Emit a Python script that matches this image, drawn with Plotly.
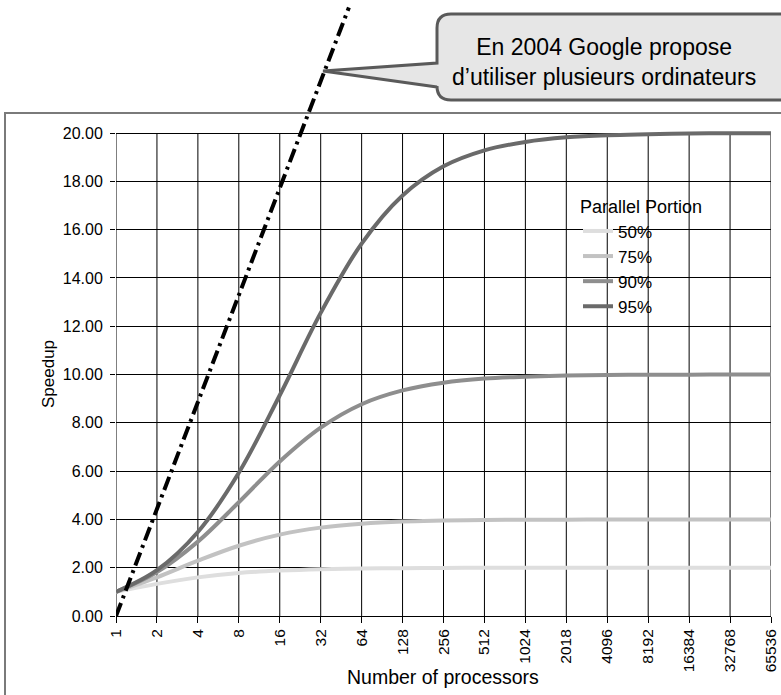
import plotly.graph_objects as go

# ---------------- data ----------------
processors = ["1", "2", "4", "8", "16", "32", "64", "128", "256", "512",
              "1024", "2018", "4096", "8192", "16384", "32768", "65536"]
speedup_50 = [1.00, 1.33, 1.60, 1.78, 1.88, 1.94, 1.97, 1.98, 1.99, 2.00,
              2.00, 2.00, 2.00, 2.00, 2.00, 2.00, 2.00]
speedup_75 = [1.00, 1.60, 2.29, 2.91, 3.37, 3.66, 3.82, 3.91, 3.95, 3.98,
              3.99, 3.99, 4.00, 4.00, 4.00, 4.00, 4.00]
speedup_90 = [1.00, 1.82, 3.08, 4.71, 6.40, 7.80, 8.77, 9.34, 9.66, 9.83,
              9.91, 9.96, 9.98, 9.99, 9.99, 10.00, 10.00]
speedup_95 = [1.00, 1.90, 3.48, 5.93, 9.14, 12.55, 15.42, 17.41, 18.62, 19.28,
              19.63, 19.82, 19.91, 19.95, 19.98, 19.99, 19.99]
series_names = ["50%", "75%", "90%", "95%"]
series_colors = ["#dedede", "#c2c2c2", "#8e8e8e", "#6a6a6a"]

# "ideal" dash-dot trend (x in processor-doubling steps, y speedup)
trend_steps = [0.0, 5.69]
trend_speedup = [0.0, 25.2]

y_ticks = [0, 2, 4, 6, 8, 10, 12, 14, 16, 18, 20]
callout_text = "En 2004 Google propose<br>d\u2019utiliser plusieurs ordinateurs"

# ---------------- layout helpers ----------------
W, H = 781, 695
FONT = "Liberation Sans, Arial, sans-serif"


def px(x):
    return x / W


def py(y):
    return 1 - y / H


x_left, x_right = 116, 771
y_zero, y_twenty = 616, 133
unit = (y_zero - y_twenty) / 20.0
y_top_val = y_zero / unit

idx = list(range(len(processors)))

fig = go.Figure()

for name, color, vals in zip(series_names, series_colors,
                             [speedup_50, speedup_75, speedup_90, speedup_95]):
    fig.add_trace(go.Scatter(
        x=idx, y=vals, mode="lines", name=name,
        line=dict(color=color, width=4, shape="spline", smoothing=1.0),
        hoverinfo="skip"))

fig.add_trace(go.Scatter(
    x=trend_steps, y=trend_speedup, mode="lines", showlegend=False,
    line=dict(color="black", width=4, dash="14px,5px,3px,5px"),
    hoverinfo="skip"))

shapes = []
# vertical grid lines (stop at 20)
for i in idx:
    shapes.append(dict(type="line", xref="x", yref="y", x0=i, x1=i, y0=0, y1=20,
                       line=dict(color="black", width=1), layer="below"))

# white legend backdrop (covers the grid)
shapes.append(dict(type="rect", xref="paper", yref="paper",
                   x0=px(572), x1=px(722), y0=py(190), y1=py(320),
                   line=dict(width=0), fillcolor="white", layer="between"))

# outer border
shapes.append(dict(type="rect", xref="paper", yref="paper",
                   x0=px(5), x1=px(810), y0=py(113), y1=py(730),
                   line=dict(color="#7a7a7a", width=2), fillcolor="rgba(0,0,0,0)",
                   layer="below"))

# callout bubble
L, T, R, B, r = 437, 14, 800, 100, 14
tipx, tipy = 323, 71
path = (f"M {px(L)},{py(T + r)} "
        f"Q {px(L)},{py(T)} {px(L + r)},{py(T)} "
        f"L {px(R)},{py(T)} L {px(R)},{py(B)} "
        f"L {px(L + r)},{py(B)} "
        f"Q {px(L)},{py(B)} {px(L)},{py(B - r)} "
        f"L {px(L)},{py(87)} L {px(tipx)},{py(tipy)} L {px(L)},{py(63)} Z")
shapes.append(dict(type="path", xref="paper", yref="paper", path=path,
                   fillcolor="#e6e6e6", line=dict(color="#5a5a5a", width=3)))

annotations = [
    dict(xref="paper", yref="paper", x=px(604), y=py(62), text=callout_text,
         showarrow=False, align="center", xanchor="center", yanchor="middle",
         font=dict(family=FONT, size=23, color="black")),
    dict(xref="paper", yref="paper", x=px(48), y=py(374), text="Speedup",
         showarrow=False, textangle=-90, xanchor="center", yanchor="middle",
         font=dict(family=FONT, size=17, color="black")),
    dict(xref="paper", yref="paper", x=px(443), y=py(677), text="Number of processors",
         showarrow=False, xanchor="center", yanchor="middle",
         font=dict(family=FONT, size=19.5, color="black")),
]

fig.update_layout(
    width=W, height=H, autosize=False,
    margin=dict(l=0, r=0, t=0, b=0, pad=0, autoexpand=False),
    paper_bgcolor="white", plot_bgcolor="rgba(0,0,0,0)",
    font=dict(family=FONT, color="black"),
    shapes=shapes, annotations=annotations,
    showlegend=True,
    legend=dict(
        title=dict(text="Parallel Portion", font=dict(family=FONT, size=18)),
        font=dict(family=FONT, size=17, color="black"),
        x=px(578), y=py(190), xanchor="left", yanchor="top",
        bgcolor="rgba(0,0,0,0)", borderwidth=0, tracegroupgap=0,
    ),
    xaxis=dict(
        domain=[px(x_left), px(x_right)], range=[0, len(processors) - 1],
        tickmode="array", tickvals=idx, ticktext=processors,
        tickangle=-90, ticks="outside", ticklen=6, tickcolor="black",
        showgrid=False, zeroline=False, showline=True, linecolor="black",
        linewidth=1, tickfont=dict(family=FONT, size=15.5, color="black"),
        fixedrange=True, automargin=False,
    ),
    yaxis=dict(
        domain=[py(y_zero), 1], range=[0, y_top_val],
        tickmode="array", tickvals=y_ticks, tickformat=".2f",
        ticks="outside", ticklen=5, tickcolor="black",
        showgrid=True, gridcolor="black", gridwidth=1,
        zeroline=False, showline=False, ticklabelstandoff=4,
        tickfont=dict(family=FONT, size=16, color="black"),
        fixedrange=True, automargin=False,
    ),
)

fig.write_html("out.html", config={"displayModeBar": False, "staticPlot": True},
               post_script="document.body.style.margin='0';document.body.style.overflow='hidden';")
